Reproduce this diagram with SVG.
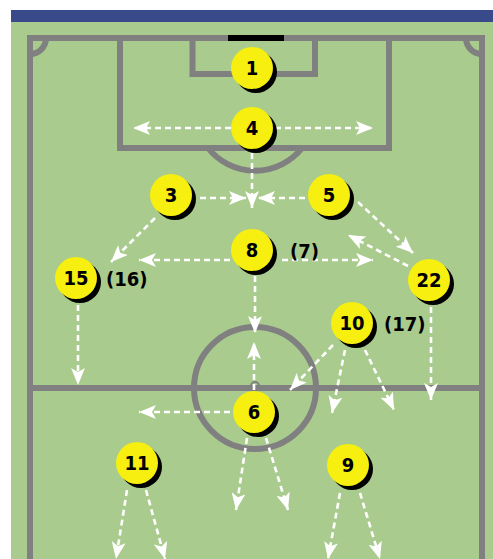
<svg xmlns="http://www.w3.org/2000/svg" width="493" height="559" viewBox="0 0 493 559">
<defs>
<style>
.line{fill:none;stroke:#808080;stroke-width:6}
.arr{fill:none;stroke:#fff;stroke-width:2.6;stroke-dasharray:6 4;marker-end:url(#ah)}
.ball{fill:#f6ef0f}
.sh{fill:#000}
.num{font-family:"DejaVu Sans Condensed","DejaVu Sans",sans-serif;font-weight:bold;font-size:20px;fill:#000;text-anchor:middle}
.lbl{font-family:"DejaVu Sans Condensed","DejaVu Sans",sans-serif;font-weight:bold;font-size:20px;fill:#000}
</style>
<marker id="ah" markerUnits="userSpaceOnUse" markerWidth="18" markerHeight="14" refX="17" refY="7" orient="auto">
<path d="M0,0 L17,7 L0,14 L4,7 z" fill="#fff"/>
</marker>
</defs>
<rect x="0" y="0" width="493" height="559" fill="#fff"/>
<rect x="11" y="22" width="482" height="537" fill="#a9cb8d"/>
<rect x="11" y="10" width="482" height="12" fill="#394a8b"/>
<g id="pitch">
<path class="line" d="M30,559 V38 H482 V559"/>
<path class="line" d="M120,38 V148 H389 V38"/>
<path class="line" d="M192.5,38 V74 H315 V38"/>
<path class="line" d="M30,54 A16,16 0 0 0 46,38"/>
<path class="line" d="M466,38 A16,16 0 0 0 482,54"/>
<path class="line" d="M208,148 A60,60 0 0 0 302,148"/>
<path class="line" d="M30,388 H482"/>
<circle class="line" cx="255" cy="388" r="61"/>
<path d="M251,386 A4,4 0 0 1 259,386" fill="none" stroke="#808080" stroke-width="2"/>
<rect x="228" y="35" width="56" height="6" fill="#000"/>
</g>
<g id="connectors">
<path class="arr" d="M231,128 H133"/>
<path class="arr" d="M275,128 H373"/>
<path class="arr" d="M252,153 V208"/>
<path class="arr" d="M200,198 H246"/>
<path class="arr" d="M305,198 H258"/>
<path class="arr" d="M155,218 L111,262"/>
<path class="arr" d="M358,202 L413,253"/>
<path class="arr" d="M408,266 L348,235"/>
<path class="arr" d="M230,260 H139"/>
<path class="arr" d="M282,260 H373"/>
<path class="arr" d="M255,276 V333"/>
<path class="arr" d="M78,305 V385"/>
<path class="arr" d="M431,307 V400"/>
<path class="arr" d="M254,390 V342"/>
<path class="arr" d="M333,345 L290,390"/>
<path class="arr" d="M345,350 L332,413"/>
<path class="arr" d="M365,350 L394,410"/>
<path class="arr" d="M230,412 H139"/>
<path class="arr" d="M247,438 L236,510"/>
<path class="arr" d="M266,438 L288,510"/>
<path class="arr" d="M127,490 L116,559"/>
<path class="arr" d="M146,490 L165,559"/>
<path class="arr" d="M340,493 L328,559"/>
<path class="arr" d="M360,493 L380,559"/>
</g>
<g id="n1"><circle class="sh" cx="256" cy="72" r="21"/><circle class="ball" cx="252" cy="68" r="21"/><text class="num" x="252" y="75">1</text></g>
<g id="n4"><circle class="sh" cx="256" cy="132" r="21"/><circle class="ball" cx="252" cy="128" r="21"/><text class="num" x="252" y="135">4</text></g>
<g id="n3"><circle class="sh" cx="175" cy="199" r="21"/><circle class="ball" cx="171" cy="195" r="21"/><text class="num" x="171" y="202">3</text></g>
<g id="n5"><circle class="sh" cx="333" cy="199" r="21"/><circle class="ball" cx="329" cy="195" r="21"/><text class="num" x="329" y="202">5</text></g>
<g id="n8"><circle class="sh" cx="256" cy="254" r="21"/><circle class="ball" cx="252" cy="250" r="21"/><text class="num" x="252" y="257">8</text><text class="lbl" x="290" y="258">(7)</text></g>
<g id="n15"><circle class="sh" cx="80" cy="282" r="21"/><circle class="ball" cx="76" cy="278" r="21"/><text class="num" x="76" y="285">15</text><text class="lbl" x="106" y="285.5">(16)</text></g>
<g id="n22"><circle class="sh" cx="433" cy="284" r="21"/><circle class="ball" cx="429" cy="280" r="21"/><text class="num" x="429" y="287">22</text></g>
<g id="n10"><circle class="sh" cx="356" cy="327" r="21"/><circle class="ball" cx="352" cy="323" r="21"/><text class="num" x="352" y="330">10</text><text class="lbl" x="384" y="330.5">(17)</text></g>
<g id="n6"><circle class="sh" cx="258" cy="416" r="21"/><circle class="ball" cx="254" cy="412" r="21"/><text class="num" x="254" y="419">6</text></g>
<g id="n11"><circle class="sh" cx="141" cy="467" r="21"/><circle class="ball" cx="137" cy="463" r="21"/><text class="num" x="137" y="470">11</text></g>
<g id="n9"><circle class="sh" cx="352" cy="469" r="21"/><circle class="ball" cx="348" cy="465" r="21"/><text class="num" x="348" y="472">9</text></g>
</svg>
